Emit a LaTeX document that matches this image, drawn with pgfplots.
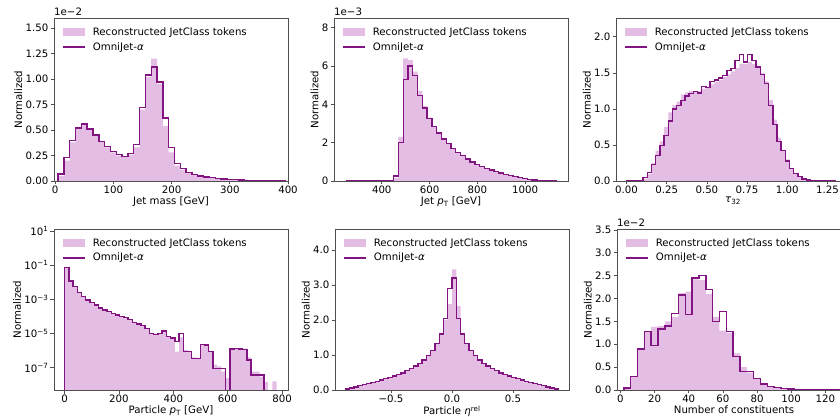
\documentclass[border=0pt]{standalone}
\usepackage{fontspec}
\setmainfont{DejaVu Sans}
\usepackage{pgfplots}
\pgfplotsset{compat=1.18}

\definecolor{fillc}{RGB}{228,189,228}
\definecolor{linec}{RGB}{130,20,130}
\definecolor{framec}{RGB}{80,80,80}

\newcommand{\f}{\fontsize{10.2}{12}\selectfont}

\pgfplotsset{
  panel/.style={
    scale only axis, width=234pt, anchor=south west,
    axis line style={framec, line width=0.6pt},
    tick align=outside, xtick pos=left, ytick pos=left,
    major tick length=3.5pt,
    tick style={framec, line width=0.6pt},
    minor tick num=0,
    tick label style={font=\f},
    xticklabel style={inner sep=1.5pt},
    yticklabel style={inner sep=2pt},
    label style={font=\f},
    xlabel style={inner sep=1pt},
    ylabel style={inner sep=1pt},
    /pgf/number format/assume math mode=true,
    /pgf/number format/1000 sep={},
    ylabel={Normalized},
    legend style={draw=none, fill=none, at={(0.035,0.955)}, anchor=north west,
      font=\f, row sep=1.5pt, column sep=5pt, inner sep=0pt},
    legend cell align=left,
    axis on top,
  },
  histfill/.style={const plot, fill=fillc, draw=none,
    legend image code/.code={\fill[fillc] (0pt,-4pt) rectangle (22pt,4pt);}},
  histline/.style={const plot, draw=linec, line width=1.4pt,
    legend image code/.code={\draw[linec, line width=1.4pt] (0pt,0pt) -- (22pt,0pt);}},
}

\begin{document}
\begin{tikzpicture}
\useasboundingbox (0,0) rectangle (840pt,417pt);

% ---------- jet mass
\begin{axis}[panel, name=p1, at={(54pt,236pt)}, height=163pt,
    xmin=-2, xmax=400, ymin=0, ymax=1.6,
    xtick={0,100,200,300,400},
    ytick={0,0.25,0.5,0.75,1,1.25,1.5},
    yticklabels={0.00,0.25,0.50,0.75,1.00,1.25,1.50},
    xlabel={Jet mass [GeV]}]
\addplot[histfill] coordinates {
 (5,0.05) (15,0.20) (25,0.38) (35,0.51) (45,0.55) (55,0.52) (65,0.46) (75,0.39)
 (85,0.33) (95,0.28) (105,0.25) (115,0.24) (125,0.26) (135,0.33) (145,0.70)
 (155,1.02) (165,1.20) (175,0.95) (185,0.54) (195,0.28) (205,0.15) (215,0.11)
 (225,0.08) (235,0.062) (245,0.048) (255,0.038) (265,0.03) (275,0.024) (285,0.019)
 (295,0.014) (305,0.011) (315,0.009) (325,0.007) (335,0.005) (345,0.004)
 (355,0.003) (365,0.002) (375,0.0015) (385,0.001) (395,0.001)} \closedcycle;
\addlegendentry{Reconstructed JetClass tokens}
\addplot[histline] coordinates {
 (5,0) (5,0.07) (15,0.23) (25,0.40) (35,0.52) (45,0.56) (55,0.51) (65,0.45) (75,0.39)
 (85,0.34) (95,0.29) (105,0.26) (115,0.24) (125,0.27) (135,0.36) (145,0.72)
 (155,1.04) (165,1.12) (175,0.97) (185,0.62) (195,0.33) (205,0.17) (215,0.12)
 (225,0.085) (235,0.065) (245,0.05) (255,0.04) (265,0.032) (275,0.025) (285,0.02)
 (295,0.015) (305,0.012) (315,0.009) (325,0.007) (335,0.005) (345,0.004)
 (355,0.003) (365,0.002) (375,0.0015) (385,0.001) (395,0.001) (395,0)};
\addlegendentry{OmniJet-\textit{α}}
\end{axis}
\node[anchor=south west, inner sep=0pt, font=\f] at ([yshift=2pt]p1.north west) {1e−2};

% ---------- jet pT
\begin{axis}[panel, name=p2, at={(334pt,236pt)}, height=163pt,
    xmin=200, xmax=1180, ymin=0, ymax=8.5,
    xtick={400,600,800,1000}, ytick={0,2,4,6,8},
    xlabel={Jet \textit{p}\textsubscript{T} [GeV]}]
\addplot[histfill] coordinates {
 (450,0.15) (470,2.3) (490,6.4) (510,6.3) (530,5.7) (550,4.7) (570,3.9) (590,3.3)
 (610,2.85) (630,2.5) (650,2.2) (670,1.93) (690,1.68) (710,1.48) (730,1.3)
 (750,1.13) (770,0.98) (790,0.85) (810,0.74) (830,0.64) (850,0.55) (870,0.47)
 (890,0.4) (910,0.33) (930,0.27) (950,0.21) (970,0.16) (990,0.11) (1010,0.075)
 (1030,0.045) (1050,0.025) (1070,0.012) (1090,0.006) (1110,0.002) (1130,0.002)} \closedcycle;
\addlegendentry{Reconstructed JetClass tokens}
\addplot[histline] coordinates {
 (250,0) (450,0.26) (470,2.0) (490,5.3) (510,6.0) (530,5.5) (550,4.45) (570,3.8)
 (590,3.25) (610,2.85) (630,2.5) (650,2.2) (670,1.95) (690,1.7) (710,1.5)
 (730,1.32) (750,1.15) (770,1.0) (790,0.87) (810,0.76) (830,0.66) (850,0.57)
 (870,0.48) (890,0.41) (910,0.34) (930,0.28) (950,0.22) (970,0.17) (990,0.12)
 (1010,0.08) (1030,0.05) (1050,0.03) (1070,0.015) (1090,0.007) (1110,0.003)
 (1130,0.003) (1130,0)};
\addlegendentry{OmniJet-\textit{α}}
\end{axis}
\node[anchor=south west, inner sep=0pt, font=\f] at ([yshift=2pt]p2.north west) {1e−3};

% ---------- tau32
\begin{axis}[panel, name=p3, at={(616pt,236pt)}, height=163pt,
    xmin=-0.065, xmax=1.39, ymin=0, ymax=2.26,
    xtick={0,0.25,0.5,0.75,1,1.25},
    xticklabels={0.00,0.25,0.50,0.75,1.00,1.25},
    ytick={0,0.5,1,1.5,2}, yticklabels={0.0,0.5,1.0,1.5,2.0},
    xlabel={\textit{τ}\textsubscript{32}}]
\addplot[histfill] coordinates {
 (0.104,0.03) (0.130,0.10) (0.156,0.25) (0.182,0.42) (0.208,0.55) (0.234,0.75)
 (0.260,0.95) (0.286,1.05) (0.312,1.10) (0.338,1.20) (0.364,1.23) (0.390,1.25)
 (0.416,1.24) (0.442,1.25) (0.468,1.28) (0.494,1.30) (0.520,1.34) (0.546,1.37)
 (0.572,1.40) (0.598,1.44) (0.624,1.48) (0.650,1.52) (0.676,1.57) (0.702,1.62)
 (0.728,1.62) (0.754,1.65) (0.780,1.62) (0.806,1.57) (0.832,1.50) (0.858,1.38)
 (0.884,1.12) (0.910,0.85) (0.936,0.60) (0.962,0.43) (0.988,0.30) (1.014,0.18)
 (1.040,0.11) (1.066,0.06) (1.092,0.03) (1.118,0.015) (1.144,0.008) (1.170,0.004)
 (1.196,0.002) (1.222,0.001) (1.248,0.001)} \closedcycle;
\addlegendentry{Reconstructed JetClass tokens}
\addplot[histline] coordinates {
 (0,0) (0.104,0.05) (0.130,0.12) (0.156,0.23) (0.182,0.35) (0.208,0.49) (0.234,0.63)
 (0.260,0.83) (0.286,1.00) (0.312,1.05) (0.338,1.12) (0.364,1.18) (0.390,1.21)
 (0.416,1.24) (0.442,1.22) (0.468,1.31) (0.494,1.30) (0.520,1.38) (0.546,1.40)
 (0.572,1.43) (0.598,1.46) (0.624,1.53) (0.650,1.56) (0.676,1.67) (0.702,1.75)
 (0.728,1.65) (0.754,1.75) (0.780,1.67) (0.806,1.58) (0.832,1.48) (0.858,1.35)
 (0.884,1.05) (0.910,0.78) (0.936,0.55) (0.962,0.42) (0.988,0.28) (1.014,0.17)
 (1.040,0.10) (1.066,0.06) (1.092,0.03) (1.118,0.015) (1.144,0.008) (1.170,0.004)
 (1.196,0.002) (1.222,0.001) (1.248,0) (1.3,0)};
\addlegendentry{OmniJet-\textit{α}}
\end{axis}

% ---------- particle pT (log)
\begin{axis}[panel, name=p4, at={(54pt,27pt)}, height=161pt,
    ymode=log, xmin=-39, xmax=822, ymin=5e-9, ymax=13,
    xtick={0,200,400,600,800},
    ytick={1e1,1e-1,1e-3,1e-5,1e-7}, yminorticks=false,
    yticklabels={10\textsuperscript{1},10\textsuperscript{−1},10\textsuperscript{−3},10\textsuperscript{−5},10\textsuperscript{−7}},
    xlabel={Particle \textit{p}\textsubscript{T} [GeV]}]
\addplot[histfill] coordinates {
 (0,1e-12) (0,7.5e-2) (15.6,1.17e-2) (31.2,5.5e-3) (46.8,2.6e-3) (62.4,1.45e-3)
 (78,9.1e-4) (93.6,6.3e-4) (109.2,4.7e-4) (124.8,3.2e-4) (140.4,2.4e-4)
 (156,1.9e-4) (171.6,1.5e-4) (187.2,1.2e-4) (202.8,9.8e-5) (218.4,8.5e-5)
 (234,6.8e-5) (249.6,4.5e-5) (265.2,3.6e-5) (280.8,2.9e-5) (296.4,2.0e-5)
 (312,1.1e-5) (327.6,8.9e-6) (343.2,1.0e-5) (358.8,1.4e-5) (374.4,6.5e-6)
 (390,5.6e-6) (405.6,8.7e-7) (421.2,6e-6) (436.8,1.1e-6) (452.4,8.7e-7)
 (468,4e-7) (483.6,3.5e-7) (499.2,2.3e-6) (514.8,2.1e-6) (530.4,8.7e-7)
 (546,1.5e-7) (561.6,1.2e-7) (577.2,6e-8) (592.8,2.5e-8) (608.4,1.26e-6)
 (624,1.3e-6) (639.6,1.26e-6) (655.2,1.3e-6) (670.8,4e-7) (686.4,6e-8)
 (702,6e-8) (717.6,3e-8) (733.2,1.5e-8) (748.8,1e-12) (764.4,1.6e-8)
 (780,1.6e-8) (780,1e-12)};
\addlegendentry{Reconstructed JetClass tokens}
\addplot[histline] coordinates {
 (0,1e-12) (0,7.1e-2) (15.6,1.17e-2) (31.2,5.5e-3) (46.8,2.6e-3) (62.4,1.45e-3)
 (78,9.1e-4) (93.6,6.3e-4) (109.2,4.7e-4) (124.8,3.2e-4) (140.4,2.4e-4)
 (156,1.9e-4) (171.6,1.5e-4) (187.2,1.2e-4) (202.8,9.8e-5) (218.4,8.5e-5)
 (234,6.8e-5) (249.6,4.5e-5) (265.2,3.6e-5) (280.8,2.9e-5) (296.4,2.0e-5)
 (312,1.0e-5) (327.6,8.9e-6) (343.2,1.0e-5) (358.8,1.4e-5) (374.4,6.5e-6)
 (390,5.6e-6) (405.6,3.3e-6) (421.2,1.0e-5) (436.8,8.7e-7) (452.4,8.7e-7)
 (468,3.5e-7) (483.6,3.5e-7) (499.2,2.3e-6) (514.8,2.1e-6) (530.4,8.7e-7)
 (546,9.1e-8) (561.6,9.1e-8) (577.2,9.1e-8) (592.8,1e-12) (608.4,1.26e-6)
 (624,1.3e-6) (639.6,1.26e-6) (655.2,1.15e-6) (670.8,2.8e-7) (686.4,3.7e-8)
 (702,3.7e-8) (717.6,3.7e-8) (733.2,1e-12)};
\addlegendentry{OmniJet-\textit{α}}
\end{axis}

% ---------- particle eta rel
\begin{axis}[panel, name=p5, at={(335pt,27pt)}, height=161pt,
    xmin=-0.96, xmax=0.96, ymin=0, ymax=4.6,
    xtick={-0.5,0,0.5}, xticklabels={−0.5,0.0,0.5},
    ytick={0,1,2,3,4}, yticklabels={0.0,1.0,2.0,3.0,4.0},
    xlabel={Particle \textit{η}\textsuperscript{rel}}]
\addplot[histfill] coordinates {
 (-0.875,0.03) (-0.84,0.06) (-0.805,0.09) (-0.77,0.12) (-0.735,0.15) (-0.7,0.18)
 (-0.665,0.21) (-0.63,0.25) (-0.595,0.28) (-0.56,0.32) (-0.525,0.36) (-0.49,0.40)
 (-0.455,0.44) (-0.42,0.49) (-0.385,0.55) (-0.35,0.61) (-0.315,0.68) (-0.28,0.76)
 (-0.245,0.86) (-0.21,0.98) (-0.175,1.13) (-0.14,1.33) (-0.105,1.6) (-0.07,2.0)
 (-0.035,2.45) (0,3.45) (0.035,2.4) (0.07,1.6) (0.105,1.33) (0.14,1.13)
 (0.175,0.98) (0.21,0.86) (0.245,0.76) (0.28,0.68) (0.315,0.61) (0.35,0.55)
 (0.385,0.49) (0.42,0.44) (0.455,0.40) (0.49,0.36) (0.525,0.32) (0.56,0.28)
 (0.595,0.25) (0.63,0.21) (0.665,0.18) (0.7,0.15) (0.735,0.12) (0.77,0.09)
 (0.805,0.06) (0.84,0.03) (0.875,0.03)} \closedcycle;
\addlegendentry{Reconstructed JetClass tokens}
\addplot[histline] coordinates {
 (-0.875,0) (-0.875,0.03) (-0.84,0.06) (-0.805,0.09) (-0.77,0.12) (-0.735,0.15) (-0.7,0.18)
 (-0.665,0.21) (-0.63,0.25) (-0.595,0.28) (-0.56,0.32) (-0.525,0.36) (-0.49,0.40)
 (-0.455,0.44) (-0.42,0.49) (-0.385,0.55) (-0.35,0.61) (-0.315,0.68) (-0.28,0.76)
 (-0.245,0.86) (-0.21,0.98) (-0.175,1.13) (-0.14,1.33) (-0.105,1.6) (-0.07,2.05)
 (-0.035,2.9) (0,3.2) (0.035,2.05) (0.07,1.6) (0.105,1.33) (0.14,1.13)
 (0.175,0.98) (0.21,0.86) (0.245,0.76) (0.28,0.68) (0.315,0.61) (0.35,0.55)
 (0.385,0.49) (0.42,0.44) (0.455,0.40) (0.49,0.36) (0.525,0.32) (0.56,0.28)
 (0.595,0.25) (0.63,0.21) (0.665,0.18) (0.7,0.15) (0.735,0.12) (0.77,0.09)
 (0.805,0.06) (0.84,0.03) (0.875,0.03) (0.875,0)};
\addlegendentry{OmniJet-\textit{α}}
\end{axis}

% ---------- number of constituents
\begin{axis}[panel, name=p6, at={(617pt,27pt)}, height=161pt,
    xmin=-2, xmax=135, ymin=0, ymax=3.52,
    xtick={0,20,40,60,80,100,120},
    ytick={0,0.5,1,1.5,2,2.5,3,3.5},
    yticklabels={0.0,0.5,1.0,1.5,2.0,2.5,3.0,3.5},
    xlabel={Number of constituents}]
\addplot[histfill] coordinates {
 (2,0.03) (6,0.3) (10,0.9) (14,1.28) (18,1.38) (22,1.4) (26,1.5) (30,1.6)
 (34,2.12) (38,2.15) (42,2.42) (46,2.4) (50,2.1) (54,1.6) (58,1.3) (62,1.25)
 (66,0.8) (70,0.5) (74,0.38) (78,0.25) (82,0.14) (86,0.08) (90,0.06) (94,0.035)
 (98,0.025) (102,0.015) (106,0.01) (110,0.008) (114,0.005) (118,0.003)
 (122,0.002) (126,0.001) (130,0.001)} \closedcycle;
\addlegendentry{Reconstructed JetClass tokens}
\addplot[histline] coordinates {
 (2,0) (2,0.04) (6,0.3) (10,0.9) (14,1.28) (18,0.97) (22,1.33) (26,1.4) (30,1.67)
 (34,2.08) (38,1.65) (42,2.45) (46,2.5) (50,2.2) (54,1.5) (58,1.72) (62,1.28)
 (66,0.73) (70,0.4) (74,0.4) (78,0.25) (82,0.13) (86,0.08) (90,0.06) (94,0.035)
 (98,0.025) (102,0.015) (106,0.01) (110,0.008) (114,0.005) (118,0.003)
 (122,0.002) (126,0.001) (130,0.001) (130,0)};
\addlegendentry{OmniJet-\textit{α}}
\end{axis}
\node[anchor=south west, inner sep=0pt, font=\f] at ([yshift=2pt]p6.north west) {1e−2};
\end{tikzpicture}
\end{document}
